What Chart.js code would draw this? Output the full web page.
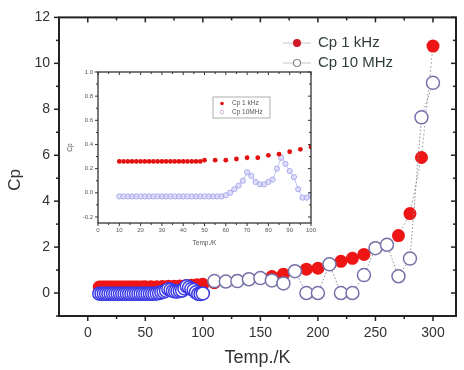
<!DOCTYPE html>
<html>
<head>
<meta charset="utf-8">
<script src="https://cdn.jsdelivr.net/npm/chart.js@4.4.0/dist/chart.umd.min.js"></script>
<style>
  html, body { margin: 0; padding: 0; background: #fff; }
  #wrap { position: relative; width: 464px; height: 370px; }
  #main { position: absolute; left: 0; top: 0; }
  #inset { position: absolute; left: 60px; top: 62px; }
</style>
</head>
<body>
<div id="wrap">
  <canvas id="main" width="464" height="370"></canvas>
  <canvas id="inset" width="260" height="195"></canvas>
</div>
<script>
// ---- data ----
// low temperature part (shown in the inset and in the main plot)
const tempLow1k = [10, 12, 14, 16, 18, 20, 22, 24, 26, 28, 30, 32, 34, 36, 38, 40, 42, 44, 46, 48, 50,
                   55, 60, 65, 70, 75, 80, 85, 90, 95, 100];
const cpLow1k = [0.26, 0.26, 0.26, 0.26, 0.26, 0.26, 0.26, 0.26, 0.26, 0.26, 0.26, 0.26, 0.26, 0.26, 0.26,
                 0.26, 0.26, 0.26, 0.26, 0.26, 0.27,
                 0.27, 0.27, 0.28, 0.29, 0.29, 0.31, 0.32, 0.34, 0.36, 0.38];
const tempLow10M = [10, 12, 14, 16, 18, 20, 22, 24, 26, 28, 30, 32, 34, 36, 38, 40, 42, 44, 46, 48, 50,
                    52, 54, 56, 58, 60, 62, 64, 66, 68, 70, 72, 74, 76, 78, 80, 82, 84, 86, 88, 90,
                    92, 94, 96, 98, 100];
const cpLow10M = [-0.03, -0.03, -0.03, -0.03, -0.03, -0.03, -0.03, -0.03, -0.03, -0.03, -0.03, -0.03,
                  -0.03, -0.03, -0.03, -0.03, -0.03, -0.03, -0.03, -0.03, -0.03, -0.03, -0.03, -0.03,
                  -0.03, -0.02, 0.0, 0.03, 0.06, 0.10, 0.17, 0.14, 0.09, 0.07, 0.07, 0.09, 0.11, 0.20,
                  0.29, 0.24, 0.18, 0.13, 0.03, -0.04, -0.04, -0.02];
// high temperature part (main plot only)
const tempHigh = [110, 120, 130, 140, 150, 160, 170, 180, 190, 200, 210, 220, 230, 240, 250, 260, 270, 280, 290, 300];
const cpHigh1k = [0.45, 0.50, 0.55, 0.60, 0.65, 0.72, 0.82, 0.95, 1.04, 1.08, 1.25, 1.38, 1.51, 1.68, 1.95,
                  2.10, 2.50, 3.46, 5.90, 10.75];
const cpHigh10M = [0.52, 0.50, 0.52, 0.60, 0.65, 0.55, 0.42, 0.95, 0.0, 0.0, 1.25, 0.0, 0.0, 0.78, 1.95,
                   2.10, 0.73, 1.50, 7.65, 9.15];

// axis ticks
const xTickVals = [0, 50, 100, 150, 200, 250, 300];
const xMinorVals = [25, 75, 125, 175, 225, 275];
const yTickVals = [0, 2, 4, 6, 8, 10, 12];
const yMinorVals = [-1, 1, 3, 5, 7, 9, 11];
const insetXTickVals = [0, 10, 20, 30, 40, 50, 60, 70, 80, 90, 100];
const insetXMinorVals = [5, 15, 25, 35, 45, 55, 65, 75, 85, 95];
const insetYTickVals = [-0.2, 0, 0.2, 0.4, 0.6, 0.8, 1.0];
const insetYMinorVals = [-0.1, 0.1, 0.3, 0.5, 0.7, 0.9];

const seriesNames = ['Cp 1 kHz', 'Cp 10 MHz'];
const insetNames = ['Cp 1 kHz', 'Cp 10MHz'];

const FONT = '"Liberation Sans", Arial, sans-serif';

const pts = (xs, ys) => xs.map((t, i) => ({ x: t, y: ys[i] }));

// frame + tick marks on all four sides
const framePlugin = {
  id: 'frame',
  afterDraw(chart, args, o) {
    const { ctx, chartArea: a, scales: { x, y } } = chart;
    ctx.save();
    ctx.strokeStyle = o.color;
    ctx.lineWidth = o.width;
    ctx.strokeRect(a.left, a.top, a.right - a.left, a.bottom - a.top);
    ctx.lineWidth = o.tickWidth;
    const seg = (x1, y1, x2, y2) => { ctx.beginPath(); ctx.moveTo(x1, y1); ctx.lineTo(x2, y2); ctx.stroke(); };
    const xs = [[o.xMajor, o.major], [o.xMinor, o.minor]];
    const ys = [[o.yMajor, o.major], [o.yMinor, o.minor]];
    for (const [vals, len] of xs) {
      for (const v of vals) {
        const px = x.getPixelForValue(v);
        seg(px, a.bottom, px, a.bottom + len);
        seg(px, a.top, px, a.top + len);
      }
    }
    for (const [vals, len] of ys) {
      for (const v of vals) {
        const py = y.getPixelForValue(v);
        seg(a.left, py, a.left - len, py);
        seg(a.right, py, a.right - len, py);
      }
    }
    ctx.restore();
  }
};

// ---- main chart ----
const mainLegend = {
  id: 'mainLegend',
  afterDraw(chart) {
    const ctx = chart.ctx;
    ctx.save();
    ctx.font = '15px ' + FONT;
    ctx.textBaseline = 'middle';
    ctx.fillStyle = '#2f3d3d';
    // row 1
    ctx.strokeStyle = '#c8c8c8'; ctx.lineWidth = 1;
    ctx.beginPath(); ctx.moveTo(283, 43); ctx.lineTo(311, 43); ctx.stroke();
    ctx.beginPath(); ctx.moveTo(283, 63); ctx.lineTo(311, 63); ctx.stroke();
    ctx.fillStyle = '#d01828';
    ctx.beginPath(); ctx.arc(297, 43, 4, 0, Math.PI * 2); ctx.fill();
    ctx.fillStyle = '#fff'; ctx.strokeStyle = '#888'; ctx.lineWidth = 1.2;
    ctx.beginPath(); ctx.arc(297, 63, 3.5, 0, Math.PI * 2); ctx.fill(); ctx.stroke();
    ctx.fillStyle = '#2f3d3d';
    ctx.fillText(seriesNames[0], 318, 43);
    ctx.fillText(seriesNames[1], 318, 63);
    // y axis title
    ctx.translate(15, 180);
    ctx.rotate(-Math.PI / 2);
    ctx.textAlign = 'center';
    ctx.font = '17px ' + FONT;
    ctx.fillStyle = '#333';
    ctx.fillText('Cp', 0, 0);
    ctx.restore();
  }
};

new Chart(document.getElementById('main'), {
  type: 'scatter',
  data: {
    datasets: [
      {
        label: seriesNames[0],
        data: pts(tempLow1k, cpLow1k).concat(pts(tempHigh, cpHigh1k)),
        showLine: true,
        borderColor: '#aaaaaa',
        borderWidth: 1,
        borderDash: [2, 2],
        pointRadius: 6.5,
        pointBackgroundColor: '#ee1515',
        pointBorderColor: '#ee1515',
        pointBorderWidth: 0,
        order: 2
      },
      {
        label: seriesNames[1],
        data: pts(tempLow10M, cpLow10M).concat(pts(tempHigh, cpHigh10M)),
        showLine: true,
        borderColor: '#8a8a9a',
        borderWidth: 1,
        borderDash: [1.5, 2],
        pointRadius: 6.5,
        pointBackgroundColor: '#ffffff',
        pointBorderColor: c => (c.raw && c.raw.x <= 100 ? '#3a3ae6' : '#7472a8'),
        pointBorderWidth: 1.5,
        order: 1
      }
    ]
  },
  options: {
    responsive: false,
    animation: false,
    layout: { padding: { top: 14, right: 4, left: 0, bottom: 0 } },
    plugins: {
      legend: { display: false },
      tooltip: { enabled: false },
      frame: { color: '#222', width: 2, tickWidth: 1.5, major: 5, minor: 3,
               xMajor: xTickVals, xMinor: xMinorVals, yMajor: yTickVals, yMinor: yMinorVals }
    },
    scales: {
      x: {
        type: 'linear', min: -25, max: 320,
        afterBuildTicks: s => { s.ticks = xTickVals.map(v => ({ value: v })); },
        afterFit: s => { s.height = 54; },
        grid: { display: false, drawTicks: false },
        border: { display: false },
        ticks: { padding: 9, color: '#333', font: { family: FONT, size: 14 } },
        title: { display: true, text: 'Temp./K', color: '#333', padding: { top: 0, bottom: 1 },
                 font: { family: FONT, size: 18 } }
      },
      y: {
        type: 'linear', min: -1, max: 12,
        afterBuildTicks: s => { s.ticks = yTickVals.map(v => ({ value: v })); },
        afterFit: s => { s.width = 59; },
        grid: { display: false, drawTicks: false },
        border: { display: false },
        ticks: { padding: 9, color: '#333', font: { family: FONT, size: 14 } }
      }
    }
  },
  plugins: [framePlugin, mainLegend]
});

// ---- inset chart ----
const insetLegend = {
  id: 'insetLegend',
  afterDraw(chart) {
    const ctx = chart.ctx;
    ctx.save();
    ctx.strokeStyle = '#999'; ctx.lineWidth = 0.8;
    ctx.strokeRect(153, 35, 57, 21);
    ctx.fillStyle = '#e01010';
    ctx.beginPath(); ctx.arc(162, 41.5, 1.8, 0, Math.PI * 2); ctx.fill();
    ctx.strokeStyle = '#c0a0c8';
    ctx.beginPath(); ctx.arc(162, 50, 1.8, 0, Math.PI * 2); ctx.stroke();
    ctx.font = '6.5px ' + FONT;
    ctx.textBaseline = 'middle';
    ctx.fillStyle = '#555';
    ctx.fillText(insetNames[0], 172, 41.5);
    ctx.fillText(insetNames[1], 172, 50);
    ctx.restore();
  }
};

new Chart(document.getElementById('inset'), {
  type: 'scatter',
  data: {
    datasets: [
      {
        label: insetNames[0],
        data: pts(tempLow1k, cpLow1k),
        showLine: false,
        pointRadius: 2.4,
        pointBackgroundColor: '#e41010',
        pointBorderWidth: 0,
        order: 1
      },
      {
        label: insetNames[1],
        data: pts(tempLow10M, cpLow10M),
        showLine: true,
        borderColor: '#c4c4f4',
        borderWidth: 1,
        pointRadius: 2.6,
        pointBackgroundColor: 'rgba(210,210,250,0.6)',
        pointBorderColor: '#a8a8ec',
        pointBorderWidth: 1,
        order: 2
      }
    ]
  },
  options: {
    responsive: false,
    animation: false,
    layout: { padding: { top: 10, right: 7, left: 0, bottom: 0 } },
    plugins: {
      legend: { display: false },
      tooltip: { enabled: false },
      frame: { color: '#333', width: 1.3, tickWidth: 1, major: 3, minor: 2,
               xMajor: insetXTickVals, xMinor: insetXMinorVals, yMajor: insetYTickVals, yMinor: insetYMinorVals }
    },
    scales: {
      x: {
        type: 'linear', min: 0, max: 100,
        afterBuildTicks: s => { s.ticks = insetXTickVals.map(v => ({ value: v })); },
        afterFit: s => { s.height = 34; },
        grid: { display: false, drawTicks: false },
        border: { display: false },
        ticks: { padding: 4, color: '#555', font: { family: FONT, size: 6 } },
        title: { display: true, text: 'Temp./K', color: '#555', padding: { top: 0, bottom: 10 },
                 font: { family: FONT, size: 6.5 } }
      },
      y: {
        type: 'linear', min: -0.25, max: 1.0,
        afterBuildTicks: s => { s.ticks = insetYTickVals.map(v => ({ value: v })); },
        afterFit: s => { s.width = 38; },
        grid: { display: false, drawTicks: false },
        border: { display: false },
        ticks: { padding: 5, color: '#555', font: { family: FONT, size: 6 },
                 callback: v => v.toFixed(1) },
        title: { display: true, text: 'Cp', color: '#555', padding: { top: 6 },
                 font: { family: FONT, size: 6.5 } }
      }
    }
  },
  plugins: [framePlugin, insetLegend]
});
</script>
</body>
</html>
